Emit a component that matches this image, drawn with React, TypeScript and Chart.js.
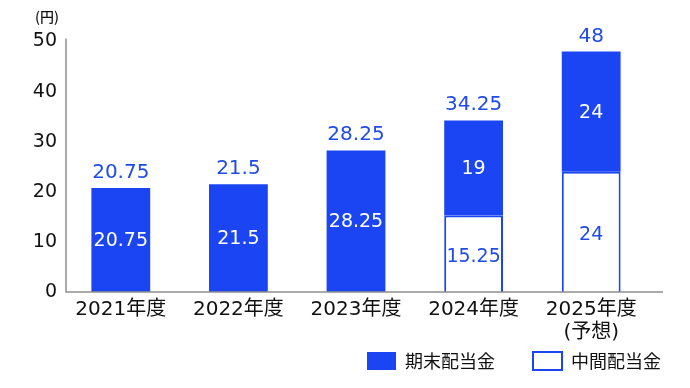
import React, { useEffect, useRef } from 'react';
import { Chart, registerables } from 'chart.js';

Chart.register(...registerables);

const categories: (string | string[])[] = ['2021年度', '2022年度', '2023年度', '2024年度', ['2025年度', '(予想)']];
const interimValues: (number | null)[] = [null, null, null, 15.25, 24];
const yearEndValues: number[] = [20.75, 21.5, 28.25, 19, 24];
const seriesNames = ['中間配当金', '期末配当金'];
const yMin = 0;
const yMax = 50;
const yStep = 10;
const unitLabel = '(円)';

const BLUE = '#1b45f2';
const LABEL_BLUE = '#1f4be6';
const CJK = '"Noto Sans CJK JP", "Noto Sans", sans-serif';
const NUM = '"DejaVu Sans", "Noto Sans CJK JP", sans-serif';

const decoPlugin = {
  id: 'deco',
  afterLayout(chart: any) {
    const lg = chart.legend;
    if (lg) {
      lg.top -= 36;
      lg.right += 9;
      lg.height = lg.bottom - lg.top;
      lg.width = lg.right - lg.left;
    }
  },
  afterDatasetsDraw(chart: any) {
    const ctx = chart.ctx as CanvasRenderingContext2D;
    const area = chart.chartArea;
    const yScale = chart.scales.y;
    ctx.save();
    // axis lines
    const zeroY = yScale.getPixelForValue(0);
    ctx.strokeStyle = '#8f8f8f';
    ctx.lineWidth = 1.5;
    ctx.beginPath();
    ctx.moveTo(area.left + 4, area.top - 3);
    ctx.lineTo(area.left + 4, zeroY);
    ctx.lineTo(area.right + 13, zeroY);
    ctx.stroke();

    // inner labels
    ctx.textAlign = 'center';
    ctx.textBaseline = 'middle';
    chart.data.datasets.forEach((ds: any, di: number) => {
      const meta = chart.getDatasetMeta(di);
      meta.data.forEach((el: any, i: number) => {
        const v = ds.data[i];
        if (v == null) return;
        const { x, y, base } = el.getProps(['x', 'y', 'base'], true);
        ctx.fillStyle = di === 0 ? LABEL_BLUE : '#ffffff';
        ctx.font = `400 19px ${NUM}`;
        ctx.fillText(String(v), x, (y + base) / 2 + (di === 0 ? 3 : 1));
      });
    });
    // totals
    const topMeta = chart.getDatasetMeta(1);
    ctx.textBaseline = 'alphabetic';
    topMeta.data.forEach((el: any, i: number) => {
      const total = (interimValues[i] ?? 0) + yearEndValues[i];
      const { x, y } = el.getProps(['x', 'y'], true);
      ctx.fillStyle = LABEL_BLUE;
      ctx.font = `400 20px ${NUM}`;
      ctx.fillText(String(total), x, y - 10);
    });
    // unit label
    ctx.fillStyle = '#111';
    ctx.font = `500 14px ${CJK}`;
    ctx.textBaseline = 'middle';
    ctx.fillText(unitLabel, area.left - 15, 17);
    ctx.restore();
  },
};

export default function App() {
  const ref = useRef<HTMLCanvasElement | null>(null);
  useEffect(() => {
    if (!ref.current) return;
    const chart = new Chart(ref.current, {
      type: 'bar',
      data: {
        labels: categories,
        datasets: [
          {
            label: seriesNames[0],
            data: interimValues,
            backgroundColor: '#ffffff',
            borderColor: BLUE,
            borderWidth: 2,
            barPercentage: 0.5,
            categoryPercentage: 1,
          },
          {
            label: seriesNames[1],
            data: yearEndValues,
            backgroundColor: BLUE,
            borderColor: BLUE,
            borderWidth: 0,
            barPercentage: 0.5,
            categoryPercentage: 1,
          },
        ],
      },
      options: {
        responsive: false,
        animation: false,
        layout: { padding: { top: 41.5, left: 0, right: 0, bottom: 8 } },
        scales: {
          x: {
            stacked: true,
            grid: { display: false, drawTicks: false },
            border: { display: false },
            ticks: {
              color: '#111',
              padding: 6,
              maxRotation: 0,
              font: { family: NUM, size: 20, weight: '400', lineHeight: 1.15 },
            },
            afterFit: (s: any) => { s.height = 58; },
          },
          y: {
            stacked: true,
            min: yMin,
            max: yMax,
            grid: { display: false, drawTicks: false },
            border: { display: false },
            ticks: {
              stepSize: yStep,
              color: '#111',
              padding: 5,
              font: { family: NUM, size: 19, weight: '400' },
            },
            afterFit: (s: any) => { s.width = 62; },
          },
          y2: {
            type: 'linear',
            position: 'right',
            display: true,
            grid: { display: false, drawTicks: false },
            border: { display: false },
            ticks: { display: false },
            afterFit: (s: any) => { s.width = 40; },
          },
        },
        plugins: {
          tooltip: { enabled: false },
          legend: {
            position: 'bottom',
            align: 'end',
            reverse: true,
            maxHeight: 30,
            labels: {
              boxWidth: 29,
              boxHeight: 18,
              padding: 38,
              color: '#111',
              font: { family: CJK, size: 18, weight: '400' },
            },
          },
        },
      } as any,
      plugins: [decoPlugin],
    });
    return () => chart.destroy();
  }, []);
  return (
    <canvas
      ref={ref}
      width={690}
      height={388}
      style={{ position: 'absolute', left: 0, top: 0, width: 690, height: 388 }}
    />
  );
}
